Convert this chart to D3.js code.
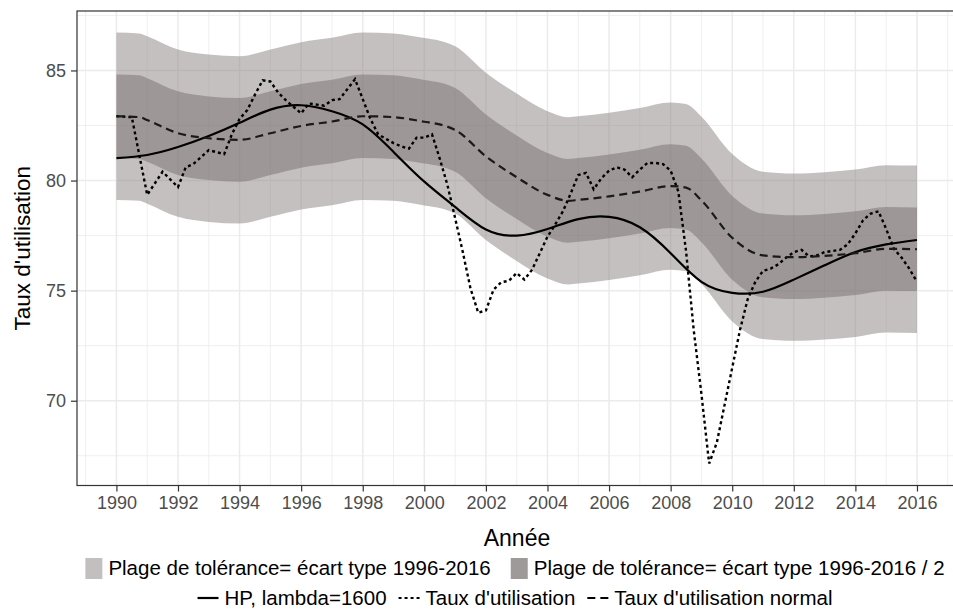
<!DOCTYPE html>
<html><head><meta charset="utf-8">
<script src="https://cdn.jsdelivr.net/npm/d3@7"></script>
<style>body{margin:0;background:#fff}svg{display:block}text{font-family:"Liberation Sans",Arial,Helvetica,sans-serif}</style>
</head><body>
<script>
// ---- data ----
const utilPeriods = [1990.00,1990.50,1991.00,1991.50,1992.00,1992.25,1992.50,1993.00,1993.50,1993.75,1994.00,1994.25,1994.50,1994.75,1995.00,1995.25,1995.50,1996.00,1996.25,1996.75,1997.00,1997.25,1997.75,1998.25,1998.50,1998.75,1999.00,1999.25,1999.50,1999.75,2000.00,2000.25,2000.50,2000.75,2001.00,2001.25,2001.50,2001.75,2002.00,2002.25,2002.50,2002.75,2003.00,2003.25,2003.50,2003.75,2004.00,2004.25,2004.50,2004.75,2005.00,2005.25,2005.50,2005.75,2006.00,2006.25,2006.50,2006.75,2007.00,2007.25,2007.50,2007.75,2008.00,2008.25,2008.50,2008.75,2009.00,2009.25,2009.50,2009.75,2010.00,2010.25,2010.50,2010.75,2011.00,2011.25,2011.50,2011.75,2012.00,2012.25,2012.50,2012.75,2013.00,2013.25,2013.50,2013.75,2014.00,2014.25,2014.50,2014.75,2015.00,2015.25,2015.50,2015.75,2016.00];
const utilValues  = [82.92,82.88,79.35,80.4,79.7,80.6,80.75,81.38,81.2,82.1,82.8,83.2,83.9,84.55,84.5,84.0,83.65,83.05,83.5,83.4,83.65,83.7,84.6,82.8,82.1,81.9,81.7,81.55,81.45,81.95,81.95,82.1,81.0,79.8,78.3,76.75,75.1,74.0,74.1,75.05,75.38,75.45,75.8,75.5,75.95,76.7,77.45,78.0,78.6,79.4,80.25,80.35,79.6,80.1,80.45,80.6,80.5,80.15,80.5,80.8,80.8,80.75,80.45,79.5,76.8,73.2,70.3,67.15,68.1,69.8,71.5,73.2,74.6,75.4,75.9,76.0,76.2,76.5,76.75,76.85,76.55,76.6,76.75,76.8,76.85,77.1,77.6,78.2,78.5,78.6,77.8,76.9,76.5,76.0,75.4];

const hpPeriods = [1990,1991,1992,1993,1994,1995,1996,1997,1998,1999,2000,2001,2002,2003,2004,2005,2006,2007,2008,2009,2010,2011,2012,2013,2014,2015,2016];
const hpValues  = [81.02,81.16,81.52,82.02,82.62,83.22,83.42,83.15,82.55,81.3,79.95,78.8,77.78,77.5,77.8,78.25,78.35,77.88,76.7,75.4,74.9,74.95,75.5,76.15,76.75,77.1,77.3];

const normalPeriods = [1990,1990.75,1991,1992,1993,1994,1995,1996,1997,1998,1999,2000,2000.5,2001,2002,2003,2004,2004.67,2005,2006,2007,2008,2008.5,2009,2010,2011,2012,2013,2014,2015,2016];
const normalValues  = [82.92,82.88,82.75,82.15,81.92,81.85,82.15,82.48,82.68,82.92,82.88,82.67,82.55,82.3,81.1,80.15,79.35,79.08,79.12,79.28,79.5,79.75,79.68,79.1,77.4,76.6,76.52,76.58,76.7,76.9,76.88];

const ecartType = 3.8; // écart type 1996-2016 (tolerance half-width)

const xTicks = [1990,1992,1994,1996,1998,2000,2002,2004,2006,2008,2010,2012,2014,2016];
const xMinor = [1989,1991,1993,1995,1997,1999,2001,2003,2005,2007,2009,2011,2013,2015,2017];
const yTicks = [70,75,80,85];
const yMinor = [67.5,72.5,77.5,82.5,87.5];

const legendFill = ["Plage de tolérance= écart type 1996-2016","Plage de tolérance= écart type 1996-2016 / 2"];
const legendLine = ["HP, lambda=1600","Taux d'utilisation","Taux d'utilisation normal"];
const xTitle = "Année", yTitle = "Taux d'utilisation";

// ---- layout ----
const W = 953, H = 612;
const L = 77, R = 957, T = 11, B = 485.5;
const colOuter = "#c4bfbf", colInner = "#9f9a9a";

const svg = d3.select("body").append("svg").attr("width", W).attr("height", H);
const x = d3.scaleLinear().domain([1988.72, 2017.3]).range([L, R]);
const y = d3.scaleLinear().domain([66.15, 87.7]).range([B, T]);

svg.append("defs").append("clipPath").attr("id","pc")
  .append("rect").attr("x",L).attr("y",T).attr("width",R-L).attr("height",B-T);

const g = svg.append("g").attr("clip-path","url(#pc)");
g.append("rect").attr("x",L).attr("y",T).attr("width",R-L).attr("height",B-T).attr("fill","#fff");

// grid
g.selectAll(".gxm").data(xMinor).join("line").attr("x1",d=>x(d)).attr("x2",d=>x(d)).attr("y1",T).attr("y2",B).attr("stroke","#ebebeb").attr("stroke-width",0.8);
g.selectAll(".gym").data(yMinor).join("line").attr("x1",L).attr("x2",R).attr("y1",d=>y(d)).attr("y2",d=>y(d)).attr("stroke","#ebebeb").attr("stroke-width",0.8);
g.selectAll(".gx").data(xTicks).join("line").attr("x1",d=>x(d)).attr("x2",d=>x(d)).attr("y1",T).attr("y2",B).attr("stroke","#ebebeb").attr("stroke-width",1.5);
g.selectAll(".gy").data(yTicks).join("line").attr("x1",L).attr("x2",R).attr("y1",d=>y(d)).attr("y2",d=>y(d)).attr("stroke","#ebebeb").attr("stroke-width",1.5);

// bands around the normal rate
const normal = normalPeriods.map((p,i)=>({t:p, v:normalValues[i]}));
const band = k => d3.area().curve(d3.curveMonotoneX).x(d=>x(d.t)).y0(d=>y(d.v - k*ecartType)).y1(d=>y(d.v + k*ecartType));
g.append("path").datum(normal).attr("d", band(1)).attr("fill","#898181").attr("fill-opacity",0.5);
g.append("path").datum(normal).attr("d", band(0.5)).attr("fill","#7a7272").attr("fill-opacity",0.52);

// lines
const hp = hpPeriods.map((p,i)=>({t:p, v:hpValues[i]}));
const util = utilPeriods.map((p,i)=>({t:p, v:utilValues[i]}));
const lineSmooth = d3.line().curve(d3.curveMonotoneX).x(d=>x(d.t)).y(d=>y(d.v));
const lineLin = d3.line().x(d=>x(d.t)).y(d=>y(d.v));
g.append("path").datum(hp).attr("d", d3.line().curve(d3.curveNatural).x(d=>x(d.t)).y(d=>y(d.v))).attr("fill","none").attr("stroke","#000").attr("stroke-width",2.2);
g.append("path").datum(util).attr("d", lineLin).attr("fill","none").attr("stroke","#000").attr("stroke-width",2.4).attr("stroke-dasharray","3,3");
g.append("path").datum(normal).attr("d", lineSmooth).attr("fill","none").attr("stroke","#1a1a1a").attr("stroke-width",2.2).attr("stroke-dasharray","8,5");

// panel border
svg.append("rect").attr("x",L).attr("y",T).attr("width",R-L).attr("height",B-T).attr("fill","none").attr("stroke","#333").attr("stroke-width",1.2);

// axes
const xAxis = svg.append("g").attr("transform",`translate(0,${B})`).call(d3.axisBottom(x).tickValues(xTicks).tickFormat(d3.format("d")).tickSize(6).tickPadding(5));
const yAxis = svg.append("g").attr("transform",`translate(${L},0)`).call(d3.axisLeft(y).tickValues(yTicks).tickSize(6).tickPadding(5));
[xAxis,yAxis].forEach(a=>{
  a.select(".domain").remove();
  a.selectAll(".tick line").attr("stroke","#333").attr("stroke-width",1.2);
  a.selectAll(".tick text").attr("fill","#4d4d4d").style("font-size","18px").style("font-family",'"Liberation Sans",Arial,sans-serif');
});

// titles
svg.append("text").attr("x",(L+R)/2).attr("y",546).attr("text-anchor","middle").style("font-size","23px").attr("fill","#000").text(xTitle);
svg.append("text").attr("transform",`translate(30,${(T+B)/2}) rotate(-90)`).attr("text-anchor","middle").style("font-size","22.5px").attr("fill","#000").text(yTitle);

// legend rows
const fs = 20.5;
function row(items, cy, keyW, gapKT, gapItems, drawKey){
  const grp = svg.append("g");
  let cx = 0;
  items.forEach((it,i)=>{
    const kg = grp.append("g").attr("transform",`translate(${cx},0)`);
    drawKey(kg, i);
    const t = grp.append("text").attr("x",cx+keyW+gapKT).attr("y",cy+7).style("font-size",fs+"px").attr("fill","#000").text(it);
    cx += keyW + gapKT + t.node().getComputedTextLength() + gapItems;
  });
  const total = cx - gapItems;
  grp.attr("transform",`translate(${(L+R)/2 - total/2 - 2},0)`);
}
row(legendFill, 568, 17, 6, 20, (kg,i)=>{
  kg.append("rect").attr("x",0).attr("y",558).attr("width",17).attr("height",21).attr("fill", i===0?colOuter:colInner);
});
const dashes = [null,"3,3","8,5"];
row(legendLine, 598, 21, 6, 12, (kg,i)=>{
  kg.append("line").attr("x1",0).attr("x2",21).attr("y1",598).attr("y2",598).attr("stroke","#000").attr("stroke-width",2.2).attr("stroke-dasharray",dashes[i]);
});
</script>
</body></html>
